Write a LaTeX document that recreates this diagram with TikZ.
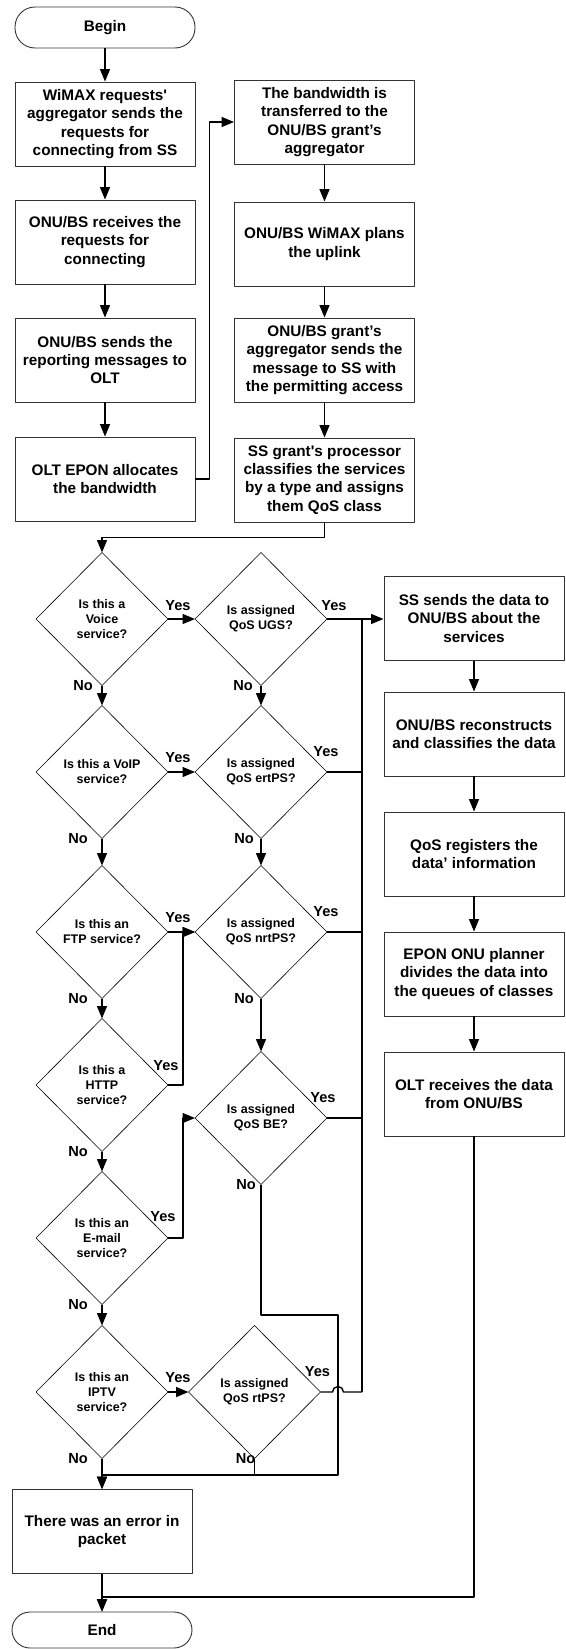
\documentclass[tikz,border=0pt]{standalone}
\usepackage{fontspec}
\setmainfont{Liberation Sans}
\usetikzlibrary{shapes.geometric,arrows.meta}

\begin{document}
\begin{tikzpicture}[x=1pt, y=-1pt, line join=round, >={Triangle[length=12.5pt,width=10pt]},
		box/.style={draw=black!80, line width=0.9pt, minimum width=180pt, minimum height=84pt, inner sep=0pt, align=center, font=\bfseries\fontsize{15.3}{18.3}\selectfont},
		term/.style={box, rounded corners=20pt, minimum height=41pt},
		dec/.style={draw, diamond, line width=0.6pt, minimum width=132pt, minimum height=133pt, inner sep=0pt, outer sep=0pt, align=center, font=\bfseries\fontsize{12.5}{15}\selectfont},
		lbl/.style={inner sep=0pt, font=\bfseries\fontsize{14.6}{17}\selectfont},
		conn/.style={line width=1.4pt}]
		\useasboundingbox (0,0) rectangle (565,1649);
		\def\xl{105}\def\xr{324.5}\def\xs{474}\def\xd{102}\def\xq{261}
		% left and right columns
		\node[term] (beg) at (\xl,27.5) {Begin};
		\node[box] (b1) at (\xl,124) {WiMAX requests\textquotesingle\\aggregator sends the\\requests for\\connecting from SS};
		\node[box] (b2) at (\xl,242) {ONU/BS receives the\\requests for\\connecting};
		\node[box] (b3) at (\xl,360) {ONU/BS sends the\\reporting messages to\\OLT};
		\node[box] (b4) at (\xl,479) {OLT EPON allocates\\the bandwidth};
		\node[box] (ba) at (\xr,122) {The bandwidth is\\transferred to the\\ONU/BS grant’s\\aggregator};
		\node[box] (bb) at (\xr,244) {ONU/BS WiMAX plans\\the uplink};
		\node[box] (bc) at (\xr,360) {ONU/BS grant’s\\aggregator sends the\\message to SS with\\the permitting access};
		\node[box] (bd) at (\xr,480) {SS grant\textquotesingle s processor\\classifies the services\\by a type and assigns\\them QoS class};
		% decisions
		\node[dec] (v1) at (\xd,619) {Is this a\\Voice\\service?};
		\node[dec] (v2) at (\xd,772) {Is this a VoIP\\service?};
		\node[dec] (v3) at (\xd,932) {Is this an\\FTP service?};
		\node[dec] (v4) at (\xd,1085) {Is this a\\HTTP\\service?};
		\node[dec] (v5) at (\xd,1238) {Is this an\\E-mail\\service?};
		\node[dec] (v6) at (\xd,1392) {Is this an\\IPTV\\service?};
		\node[dec] (q1) at (\xq,619) {Is assigned\\QoS UGS?};
		\node[dec] (q2) at (\xq,772) {Is assigned\\QoS ertPS?};
		\node[dec] (q3) at (\xq,932) {Is assigned\\QoS nrtPS?};
		\node[dec] (q4) at (\xq,1118) {Is assigned\\QoS BE?};
		\node[dec] (q6) at (254.5,1392) {Is assigned\\QoS rtPS?};
		% data path
		\node[box] (ss) at (\xs,618.5) {SS sends the data to\\ONU/BS about the\\services};
		\node[box] (rec) at (\xs,734) {ONU/BS reconstructs\\and classifies the data};
		\node[box] (qreg) at (\xs,854) {QoS registers the\\data’ information};
		\node[box] (plan) at (\xs,974) {EPON ONU planner\\divides the data into\\the queues of classes};
		\node[box] (olt) at (\xs,1094) {OLT receives the data\\from ONU/BS};
		\node[box] (err) at (\xd,1531.5) {There was an error in\\packet};
		\node[term, minimum height=36pt, rounded corners=18pt] (fin) at (\xd,1630) {End};
		\coordinate (bus) at (362,619);
		\coordinate (kb) at (338,1315);
		\coordinate (ke) at (338,1475);
		\coordinate (ko) at (\xd,1597);
		% connectors
		\foreach \a/\b in {beg/b1,b1/b2,b2/b3,b3/b4,ba/bb,bb/bc,bc/bd,ss/rec,rec/qreg,qreg/plan,plan/olt,v1/v2,v2/v3,v3/v4,v4/v5,v5/v6,q1/q2,q2/q3,q3/q4}
			\draw[conn,->] (\a.south) -- (\b.north);
		\foreach \a/\b in {v1/q1,v2/q2,v3/q3,v6/q6}
			\draw[conn,->] (\a.east) -- (\b.west);
		\draw[conn,->] (b4.east) -- ++(14,0) |- (ba.west);
		\draw[conn,->] (bd.south) -- ++(0,15) -| (v1.north);
		\draw[conn,->] (v4.east) -- ++(15,0) |- (q3.west);
		\draw[conn,->] (v5.east) -- ++(15,0) |- (q4.west);
		\draw[conn,->] (q1.east) -- (q1.east -| ss.west);
		\foreach \a in {q2,q3,q4}
			\draw[conn] (\a.east) -- (\a.east -| bus);
		\draw[conn] (bus) -- (bus |- q6.east);
		\draw[conn] (q6.east) -- (332.5,1392) arc[start angle=180, end angle=0, radius=5.5pt] -- (q6.east -| bus);
		\draw[conn,->] (q4.south) |- (kb) -- (ke) -| (err.north);
		\draw[conn] (q6.south) -- (q6.south |- ke);
		\draw[conn,->] (v6.south) -- (err.north);
		\draw[conn,->] (err.south) -- (fin.north);
		\draw[conn,->] (olt.south) |- (ko) -- (fin.north);
		% yes / no
		\foreach \n/\dx/\dy in {v1/10/13,v2/10/14,v3/10/14,v6/10/14,q1/7/13,q2/-1/20,q3/-1/20,q4/-4/20,q6/-3/20,v4/-2/19,v5/-5/21}
			\node[lbl] (yes\n) at ([xshift=\dx pt,yshift=\dy pt]\n.east) {Yes};
		\foreach \n/\dx in {v1/-19,v2/-24,v3/-24,v4/-24,v5/-24,v6/-24,q1/-18,q2/-17,q3/-17,q4/-15,q6/-9}
			\node[lbl] (no\n) at ([xshift=\dx pt]\n.south) {No};
\end{tikzpicture}
\end{document}
